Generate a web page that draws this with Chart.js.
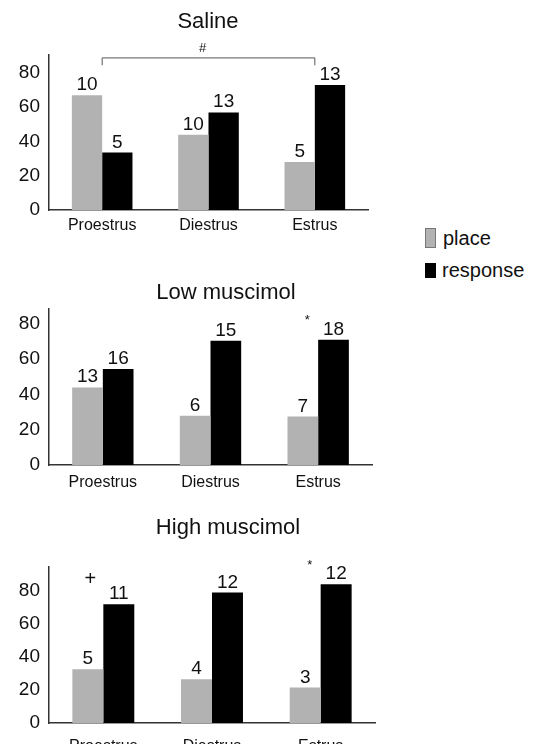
<!DOCTYPE html>
<html>
<head>
<meta charset="utf-8">
<script src="https://cdn.jsdelivr.net/npm/chart.js@4"></script>
<style>
  body { margin: 0; background: #fff; width: 537px; height: 744px; position: relative; overflow: hidden; font-family: "Liberation Sans", Arial, sans-serif; }
  canvas { position: absolute; left: 0; }
  .leg { position: absolute; font-size: 20px; line-height: 20px; color: #111; }
  .box { position: absolute; }
</style>
</head>
<body>
<canvas id="c1" width="400" height="245" style="top:0px"></canvas>
<canvas id="c2" width="400" height="245" style="top:250px"></canvas>
<canvas id="c3" width="400" height="244" style="top:500px"></canvas>

<div class="box" style="left:425px;top:228px;width:9px;height:18px;background:#b2b2b2;border:1px solid #777;"></div>
<div class="leg" style="left:443px;top:228px;">place</div>
<div class="box" style="left:425px;top:263px;width:11px;height:15px;background:#000;"></div>
<div class="leg" style="left:442px;top:260px;">response</div>

<script>
const categories = ["Proestrus", "Diestrus", "Estrus"];
const yTicks = [0, 20, 40, 60, 80];

const salinePlace = [67, 44, 28];
const salineResponse = [33.5, 57, 73];
const salinePlaceN = [10, 10, 5];
const salineResponseN = [5, 13, 13];

const lowPlace = [44, 28, 27.5];
const lowResponse = [54.5, 70.5, 71];
const lowPlaceN = [13, 6, 7];
const lowResponseN = [16, 15, 18];

const highPlace = [32.5, 26.5, 21.5];
const highResponse = [72, 79, 84];
const highPlaceN = [5, 4, 3];
const highResponseN = [11, 12, 12];

const FONT = "'Liberation Sans', Arial, sans-serif";

// labels, title and significance marks drawn on top of the bars
const panelText = {
    id: "panelText",
    afterDatasetsDraw(chart, args, opts) {
        const ctx = chart.ctx;
        const xs = chart.scales.x, ys = chart.scales.y;
        ctx.save();
        ctx.fillStyle = "#111";
        ctx.textAlign = "center";

        // n above each bar
        ctx.font = "19px " + FONT;
        ctx.textBaseline = "alphabetic";
        opts.counts.forEach((arr, i) => {
            chart.getDatasetMeta(i).data.forEach((bar, j) => {
                ctx.fillText(String(arr[j]), bar.x, bar.y - 5);
            });
        });

        // title
        ctx.font = "22px " + FONT;
        ctx.textBaseline = "middle";
        ctx.fillText(opts.title, opts.titleX, opts.titleY);

        // bracket
        if (opts.bracket) {
            const b = opts.bracket;
            const x0 = xs.getPixelForValue(b.from), x1 = xs.getPixelForValue(b.to);
            const y = ys.getPixelForValue(b.value), yEnd = ys.getPixelForValue(b.tickTo);
            ctx.strokeStyle = "#555";
            ctx.lineWidth = 1;
            ctx.beginPath();
            ctx.moveTo(x0, yEnd); ctx.lineTo(x0, y); ctx.lineTo(x1, y); ctx.lineTo(x1, yEnd);
            ctx.stroke();
        }

        (opts.marks || []).forEach(m => {
            ctx.font = m.size + "px " + FONT;
            ctx.fillText(m.text, xs.getPixelForValue(m.cat) + m.dx, ys.getPixelForValue(m.value));
        });
        ctx.restore();
    }
};

function makePanel(id, place, response, placeN, responseN, p) {
    const ctx = document.getElementById(id).getContext("2d");
    return new Chart(ctx, {
        type: "bar",
        data: {
            labels: categories,
            datasets: [
                { label: "place", data: place, backgroundColor: "#b2b2b2", borderColor: "#999", borderWidth: 0 },
                { label: "response", data: response, backgroundColor: "#000" }
            ]
        },
        options: {
            responsive: false,
            animation: false,
            devicePixelRatio: 1,
            layout: { padding: { top: p.top, right: p.right, bottom: 0, left: 0 } },
            datasets: { bar: { categoryPercentage: 0.57, barPercentage: 1.0 } },
            scales: {
                x: {
                    grid: { display: false, drawTicks: false },
                    border: { display: true, color: "#333", width: 1.5 },
                    ticks: { color: "#111", font: { size: 16, family: FONT }, padding: p.xPad, maxRotation: 0 },
                    afterFit(scale) { scale.height = p.xHeight; }
                },
                y: {
                    min: 0,
                    max: p.max,
                    grid: { display: false, drawTicks: false },
                    border: { display: true, color: "#333", width: 1.5 },
                    ticks: { color: "#111", font: { size: 19, family: FONT }, padding: 9 },
                    afterBuildTicks(scale) { scale.ticks = yTicks.map(v => ({ value: v })); },
                    afterFit(scale) { scale.width = 49; }
                }
            },
            plugins: {
                legend: { display: false },
                tooltip: { enabled: false },
                panelText: {
                    counts: [placeN, responseN],
                    title: p.title, titleX: p.titleX, titleY: p.titleY,
                    bracket: p.bracket, marks: p.marks
                }
            }
        },
        plugins: [panelText]
    });
}

makePanel("c1", salinePlace, salineResponse, salinePlaceN, salineResponseN, {
    top: 55, right: 32, xHeight: 35, xPad: 6, max: 90.5,
    title: "Saline", titleX: 208, titleY: 22,
    bracket: { from: 0, to: 2, value: 88.8, tickTo: 84.5 },
    marks: [{ text: "#", cat: 1, dx: -6, value: 94.6, size: 13 }]
});

makePanel("c2", lowPlace, lowResponse, lowPlaceN, lowResponseN, {
    top: 59, right: 28, xHeight: 30, xPad: 7.5, max: 88.5,
    title: "Low muscimol", titleX: 226, titleY: 43,
    marks: [{ text: "*", cat: 2, dx: -11, value: 82, size: 13 }]
});

makePanel("c3", highPlace, highResponse, highPlaceN, highResponseN, {
    top: 67, right: 25, xHeight: 21, xPad: 14, max: 94.5,
    title: "High muscimol", titleX: 228, titleY: 28,
    marks: [
        { text: "+", cat: 0, dx: -13, value: 86.7, size: 20 },
        { text: "*", cat: 2, dx: -11, value: 95.5, size: 13 }
    ]
});
</script>
</body>
</html>
